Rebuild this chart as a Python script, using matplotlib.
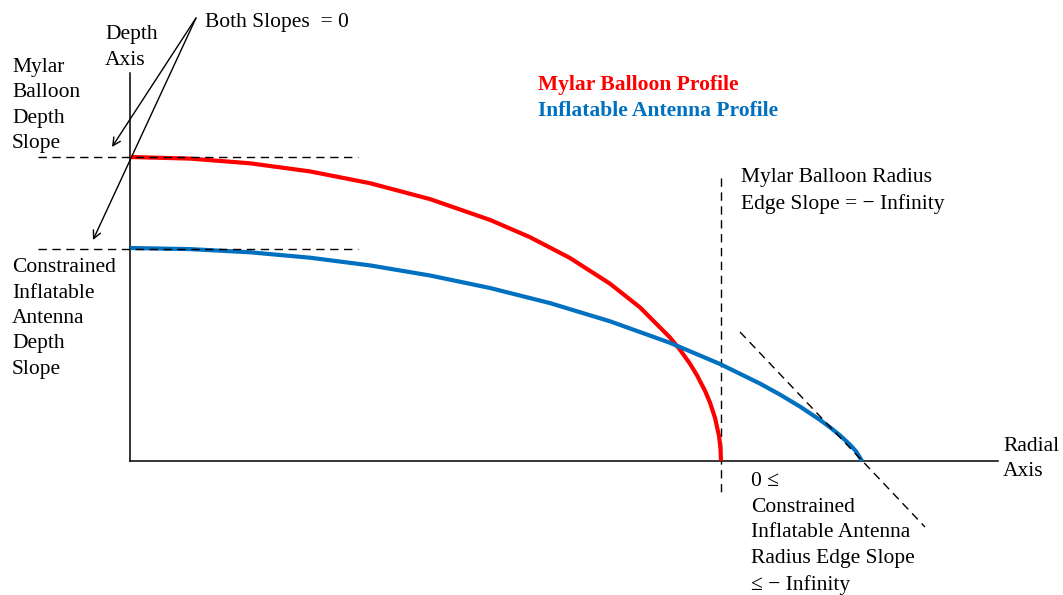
import numpy as np
import matplotlib
matplotlib.use("Agg")
import matplotlib.pyplot as plt

# profiles: radial distance, depth (pixels from the origin)
mylar_r = [0, 60, 120, 180, 240, 300, 360, 400, 440, 480, 510, 540, 550, 560, 567, 575, 580, 585, 589, 590.5, 591]
mylar_d = [304, 302.4, 297.7, 289.6, 277.8, 261.9, 241.1, 223.8, 203.0, 177.3, 153.6, 123.5, 111.3, 97.2, 85.7, 70.2, 58.4, 43.2, 25.0, 12.5, 0]
antenna_r = [0, 60, 120, 180, 240, 300, 360, 420, 480, 540, 590, 630, 650, 670, 690, 700, 710, 720, 726, 732]
antenna_d = [213, 211.9, 208.7, 203.3, 195.6, 185.5, 173.0, 157.9, 139.7, 118.2, 97.0, 77.4, 66.4, 54.4, 41.1, 33.7, 25.6, 16.3, 9.7, 0]

# reference lines
slope_levels = [304, 212]
mylar_edge = 591
tangent_r = [610, 795]
tangent_d = [129, -66]

plt.rcParams['font.family'] = ['Liberation Serif', 'DejaVu Serif']
fs = 15.5
ls = 1.46

fig = plt.figure(figsize=(10.63, 5.95), dpi=100)
ax = fig.add_axes([0, 0, 1, 1])
ax.set_xlim(-130, 933)
ax.set_ylim(-134, 461)
ax.axis('off')

# axes of the diagram
ax.plot([0, 0], [0, 388], color='black', lw=1.1)
ax.plot([0, 868], [0, 0], color='black', lw=1.1)

dash = (0, (6, 4))
for lev in slope_levels:
    ax.plot([-92, 228], [lev, lev], color='black', lw=1.0, linestyle=dash, zorder=3)
ax.plot([mylar_edge, mylar_edge], [283, -36], color='black', lw=1.0, linestyle=dash)
ax.plot(tangent_r, tangent_d, color='black', lw=1.0, linestyle=dash, zorder=3)

ax.plot(mylar_r, mylar_d, color='#FF0000', lw=3.0, solid_capstyle='butt',
        solid_joinstyle='round', zorder=2)
ax.plot(antenna_r, antenna_d, color='#0070C0', lw=3.0, solid_capstyle='butt',
        solid_joinstyle='round', zorder=2)

# arrows from "Both Slopes = 0"
for tip in [(-18, 314), (-37, 221)]:
    ax.annotate('', xy=tip, xytext=(66, 443),
                arrowprops=dict(arrowstyle='->', color='black', lw=1.0,
                                mutation_scale=14, shrinkA=0, shrinkB=0))

ax.text(75, 439, 'Both Slopes  = 0', fontsize=fs, va='center', ha='left')
ax.text(-25, 413.5, 'Depth\nAxis', fontsize=fs, va='center', ha='left', linespacing=ls)
ax.text(-118, 355.5, 'Mylar\nBalloon\nDepth\nSlope', fontsize=fs, va='center', ha='left', linespacing=ls)
ax.text(-118, 142.5, 'Constrained\nInflatable\nAntenna\nDepth\nSlope', fontsize=fs, va='center', ha='left', linespacing=ls)

ax.text(408, 376, 'Mylar Balloon Profile', fontsize=fs, fontweight='bold', color='#FF0000', va='center')
ax.text(408, 350, 'Inflatable Antenna Profile', fontsize=fs, fontweight='bold', color='#0070C0', va='center')

ax.text(611, 270, 'Mylar Balloon Radius\nEdge Slope = \u2212 Infinity', fontsize=fs, va='center', linespacing=ls)
ax.text(873, 2, 'Radial\nAxis', fontsize=fs, va='center', linespacing=ls)
ax.text(621, -72.5, '0 \u2264\nConstrained\nInflatable Antenna\nRadius Edge Slope\n\u2264 \u2212 Infinity',
        fontsize=fs, va='center', linespacing=ls)

fig.savefig('out.png', dpi=100, facecolor='white')
